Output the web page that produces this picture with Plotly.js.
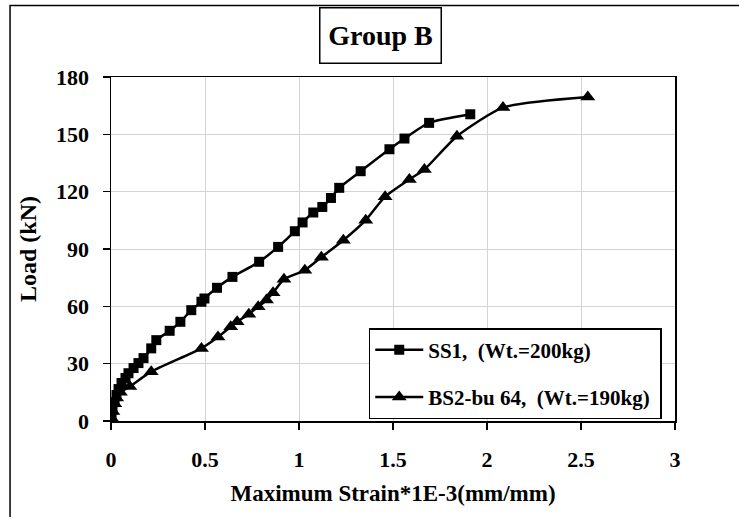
<!DOCTYPE html>
<html>
<head>
<meta charset="utf-8">
<script src="https://cdn.plot.ly/plotly-3.0.1.min.js"></script>
<style>html,body{margin:0;padding:0;background:#fff;}#chart{width:739px;height:517px;}</style>
</head>
<body>
<div id="chart"></div>
<script>
// SS1, (Wt.=200kg)
const ss1Strain = [0, 0.003, 0.008, 0.019, 0.029, 0.040, 0.056, 0.077, 0.093, 0.120, 0.146, 0.173, 0.214, 0.241, 0.312, 0.369, 0.427, 0.481, 0.497, 0.564, 0.646, 0.788, 0.889, 0.978, 1.019, 1.076, 1.124, 1.170, 1.214, 1.328, 1.481, 1.561, 1.692, 1.911];
const ss1Load   = [0, 1.6, 5.8, 9.9, 13.6, 16.7, 19.9, 22.5, 25.0, 27.7, 30.3, 32.9, 38.0, 42.3, 47.2, 51.9, 58.0, 62.4, 64.1, 69.7, 75.4, 83.3, 91.1, 99.3, 103.9, 109.1, 112.0, 116.7, 122.0, 130.7, 142.2, 147.8, 156.0, 160.5];

// BS2-bu 64, (Wt.=190kg)
const bs2Strain = [0, 0.003, 0.010, 0.020, 0.030, 0.050, 0.100, 0.214, 0.481, 0.569, 0.637, 0.671, 0.733, 0.783, 0.827, 0.862, 0.920, 1.031, 1.119, 1.236, 1.355, 1.458, 1.587, 1.667, 1.840, 2.085, 2.536];
const bs2Load   = [0, 1.5, 5.0, 9.0, 12.0, 15.0, 18.0, 25.8, 38.0, 43.9, 49.3, 51.9, 55.9, 59.8, 63.3, 67.1, 74.2, 78.9, 85.7, 94.6, 105.1, 117.4, 126.4, 131.6, 149.0, 164.0, 169.5];

const seriesNames = ["SS1,\u00a0 (Wt.=200kg)", "BS2-bu 64,\u00a0 (Wt.=190kg)\u00a0"];
const xTicks = [0, 0.5, 1, 1.5, 2, 2.5, 3];
const yTicks = [0, 30, 60, 90, 120, 150, 180];
const chartTitle = "Group B";
const xTitle = "Maximum Strain*1E-3(mm/mm)";
const yTitle = "Load (kN)";

const FONT = "Liberation Serif, Times New Roman, serif";

const traces = [
  {
    x: ss1Strain, y: ss1Load, name: seriesNames[0], legendgroup: "a",
    type: "scatter", mode: "lines+markers",
    line: {color: "black", width: 2.5, shape: "spline", smoothing: 0.6},
    marker: {symbol: "square", size: 10, color: "black"}
  },
  {
    x: bs2Strain, y: bs2Load, name: seriesNames[1], legendgroup: "b",
    type: "scatter", mode: "lines+markers",
    line: {color: "black", width: 2.5, shape: "spline", smoothing: 0.6},
    marker: {symbol: "triangle-up", size: 13, color: "black"}
  }
];

const axisCommon = {
  showline: true, mirror: true, linecolor: "black", linewidth: 1.5,
  showgrid: true, gridcolor: "#d4d4d4", gridwidth: 1,
  zeroline: false,
  ticks: "outside", ticklen: 7, tickwidth: 1.5, tickcolor: "black",
  tickfont: {family: FONT, size: 22, weight: "bold", color: "black"}
};

const layout = {
  width: 739, height: 517,
  margin: {l: 111, r: 64, t: 77, b: 96},
  paper_bgcolor: "white", plot_bgcolor: "white",
  showlegend: true,
  xaxis: Object.assign({}, axisCommon, {
    range: [0, 3], tickvals: xTicks, ticktext: xTicks.map(String),
    ticklabelstandoff: 11,
    title: {text: xTitle, standoff: 14, font: {family: FONT, size: 23, weight: "bold", color: "black"}}
  }),
  yaxis: Object.assign({}, axisCommon, {
    range: [0, 180], tickvals: yTicks, ticktext: yTicks.map(String),
    ticklabelstandoff: 9,
    title: {text: yTitle, standoff: 12, font: {family: FONT, size: 24, weight: "bold", color: "black"}}
  }),
  legend: {
    x: 0.457, y: 0.27, xanchor: "left", yanchor: "top",
    bgcolor: "white", bordercolor: "black", borderwidth: 1.5,
    font: {family: FONT, size: 21, weight: "bold", color: "black"},
    tracegroupgap: 17, itemwidth: 48
  },
  annotations: [
    {
      text: chartTitle, xref: "paper", yref: "paper",
      x: 0.477, y: 1.12, xanchor: "center", yanchor: "middle",
      showarrow: false, width: 116, height: 50, borderpad: 2,
      bordercolor: "black", borderwidth: 1.5, bgcolor: "white",
      font: {family: FONT, size: 28, weight: "bold", color: "black"}
    }
  ],
  shapes: [
    {
      type: "rect", xref: "paper", yref: "paper", layer: "below",
      x0: -0.179, x1: 1.13, y0: -0.31, y1: 1.208,
      line: {color: "black", width: 1.5}
    }
  ]
};

Plotly.newPlot("chart", traces, layout, {staticPlot: true, displayModeBar: false});
</script>
</body>
</html>
